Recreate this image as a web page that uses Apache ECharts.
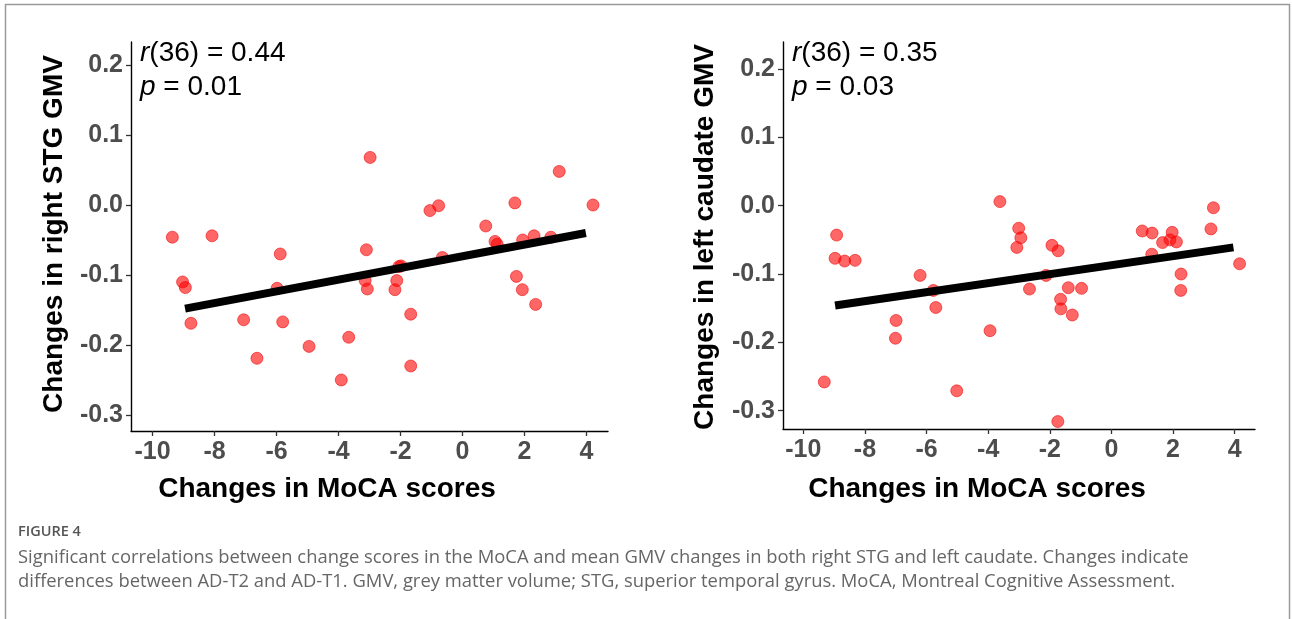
<!DOCTYPE html>
<html><head><meta charset="utf-8">
<script src="https://cdn.jsdelivr.net/npm/echarts@6/dist/echarts.min.js"></script>
<style>html,body{margin:0;padding:0;background:#fff}#c{width:1292px;height:619px}</style>
</head><body><div id="c"></div>
<script>
// Left panel: MoCA change vs right STG GMV change
const stgX = [-9.36,-9.03,-8.94,-8.76,-8.08,-7.06,-6.63,-5.98,-5.88,-5.80,-4.95,-3.91,-3.67,-3.14,-3.10,-3.07,-2.98,-2.18,-2.12,-2.05,-1.98,-1.67,-1.67,-1.05,-0.77,-0.65,0.75,1.05,1.12,1.69,1.74,1.93,1.94,2.31,2.36,2.85,3.12,4.21];
const stgY = [-0.046,-0.110,-0.118,-0.169,-0.044,-0.164,-0.219,-0.119,-0.070,-0.167,-0.202,-0.250,-0.189,-0.108,-0.064,-0.120,0.068,-0.121,-0.108,-0.088,-0.087,-0.156,-0.230,-0.008,-0.001,-0.075,-0.030,-0.052,-0.056,0.003,-0.102,-0.121,-0.050,-0.044,-0.142,-0.046,0.048,0.000];
// Right panel: MoCA change vs left caudate GMV change
const caudX = [-9.32,-8.97,-8.92,-8.66,-8.32,-7.01,-6.99,-6.21,-5.78,-5.70,-5.02,-3.94,-3.62,-3.07,-3.01,-2.94,-2.66,-2.12,-1.93,-1.73,-1.74,-1.65,-1.64,-1.40,-1.27,-0.97,1.00,1.31,1.32,1.66,1.90,1.97,2.11,2.26,2.25,3.23,3.31,4.16];
const caudY = [-0.258,-0.077,-0.043,-0.081,-0.080,-0.194,-0.168,-0.102,-0.124,-0.149,-0.271,-0.183,0.006,-0.061,-0.033,-0.047,-0.122,-0.102,-0.058,-0.066,-0.316,-0.137,-0.151,-0.120,-0.160,-0.121,-0.037,-0.071,-0.040,-0.054,-0.050,-0.039,-0.053,-0.100,-0.124,-0.034,-0.003,-0.085];
// Fitted regression line end points
const stgFitX = [-8.95, 3.98];
const stgFitY = [-0.148, -0.040];
const caudFitX = [-8.97, 3.96];
const caudFitY = [-0.146, -0.061];
// Tick labels
const xTicks = [-10,-8,-6,-4,-2,0,2,4];
const yTicks = [-0.3,-0.2,-0.1,0.0,0.1,0.2];
const stats = [{r:'0.44', p:'0.01'}, {r:'0.35', p:'0.03'}];
const yTitles = ['Changes in right STG GMV', 'Changes in left caudate GMV'];
const xTitle = 'Changes in MoCA scores';
const captionHead = 'FIGURE 4';
const captionLines = [
  'Significant correlations between change scores in the MoCA and mean GMV changes in both right STG and left caudate. Changes indicate',
  'differences between AD-T2 and AD-T1. GMV, grey matter volume; STG, superior temporal gyrus. MoCA, Montreal Cognitive Assessment.'
];

const zip = (a, b) => a.map((v, i) => [v, b[i]]);
const FONT = '"Liberation Sans", Arial, sans-serif';
const CAP = '"Open Sans", Lato, sans-serif';

function xAxisCfg(gi, min, max) {
  return {type:'value', gridIndex:gi, min:min, max:max, splitLine:{show:false},
    axisLine:{onZero:false, lineStyle:{color:'#000', width:1.4}},
    axisTick:{show:true, length:5, customValues:xTicks, lineStyle:{color:'#333', width:1.3}},
    axisLabel:{customValues:xTicks, color:'#4d4d4d', fontSize:25, fontWeight:'bold', fontFamily:FONT, margin:9}};
}
function yAxisCfg(gi, min, max) {
  return {type:'value', gridIndex:gi, min:min, max:max, splitLine:{show:false},
    axisLine:{onZero:false, lineStyle:{color:'#000', width:1.4}},
    axisTick:{show:true, length:5, customValues:yTicks, lineStyle:{color:'#333', width:1.3}},
    axisLabel:{customValues:yTicks, color:'#4d4d4d', fontSize:25, fontWeight:'bold', fontFamily:FONT, margin:8,
      formatter: v => v.toFixed(1)}};
}
function scatter(gi, xs, ys) {
  return {type:'scatter', xAxisIndex:gi, yAxisIndex:gi, data:zip(xs, ys), symbolSize:12,
    itemStyle:{color:'rgba(255,0,0,0.6)', borderColor:'rgba(235,0,0,0.55)', borderWidth:1, opacity:1}, z:2};
}
function fit(gi, xs, ys) {
  return {type:'line', xAxisIndex:gi, yAxisIndex:gi, data:zip(xs, ys), symbol:'none',
    lineStyle:{color:'#000', width:8}, z:3, silent:true};
}

const graphics = [
  {type:'rect', shape:{x:5.5, y:4.5, width:1284, height:700}, style:{fill:'none', stroke:'#9a9a9a', lineWidth:1.5}},
  {type:'text', x:54, y:234, rotation:Math.PI/2, style:{text:yTitles[0], font:'bold 28px '+FONT, fill:'#000', textAlign:'center', textVerticalAlign:'middle'}},
  {type:'text', x:705, y:237, rotation:Math.PI/2, style:{text:yTitles[1], font:'bold 28px '+FONT, fill:'#000', textAlign:'center', textVerticalAlign:'middle'}},
  {type:'text', x:327, y:489, style:{text:xTitle, font:'bold 28px '+FONT, fill:'#000', textAlign:'center', textVerticalAlign:'middle'}},
  {type:'text', x:977, y:489, style:{text:xTitle, font:'bold 28px '+FONT, fill:'#000', textAlign:'center', textVerticalAlign:'middle'}},
  {type:'text', x:18, y:532, style:{text:captionHead, font:'600 14.5px '+CAP, fill:'#555', textVerticalAlign:'middle'}},
  {type:'text', x:18, y:558, style:{text:captionLines[0], font:'18.4px '+CAP, fill:'#666', textVerticalAlign:'middle'}},
  {type:'text', x:18, y:582, style:{text:captionLines[1], font:'18.4px '+CAP, fill:'#666', textVerticalAlign:'middle'}}
];
[140, 792].forEach((x, i) => {
  graphics.push({type:'text', x:x, y:53, style:{text:'{i|r}(36) = ' + stats[i].r, font:'28px '+FONT, fill:'#000', textVerticalAlign:'middle',
    rich:{i:{fontStyle:'italic', fontSize:28, fontFamily:FONT, fill:'#000'}}}});
  graphics.push({type:'text', x:x, y:87, style:{text:'{i|p} = ' + stats[i].p, font:'28px '+FONT, fill:'#000', textVerticalAlign:'middle',
    rich:{i:{fontStyle:'italic', fontSize:28, fontFamily:FONT, fill:'#000'}}}});
});

const chart = echarts.init(document.getElementById('c'), null, {renderer:'canvas'});
chart.setOption({
  animation:false,
  backgroundColor:'#fff',
  grid:[
    {left:131, top:42, width:477, height:389},
    {left:783, top:42, width:472, height:387}
  ],
  xAxis:[xAxisCfg(0, -10.694, 4.694), xAxisCfg(1, -10.66, 4.66)],
  yAxis:[yAxisCfg(0, -0.3229, 0.2329), yAxisCfg(1, -0.3269, 0.2397)],
  series:[scatter(0, stgX, stgY), fit(0, stgFitX, stgFitY), scatter(1, caudX, caudY), fit(1, caudFitX, caudFitY)],
  graphic:graphics
});
</script></body></html>
